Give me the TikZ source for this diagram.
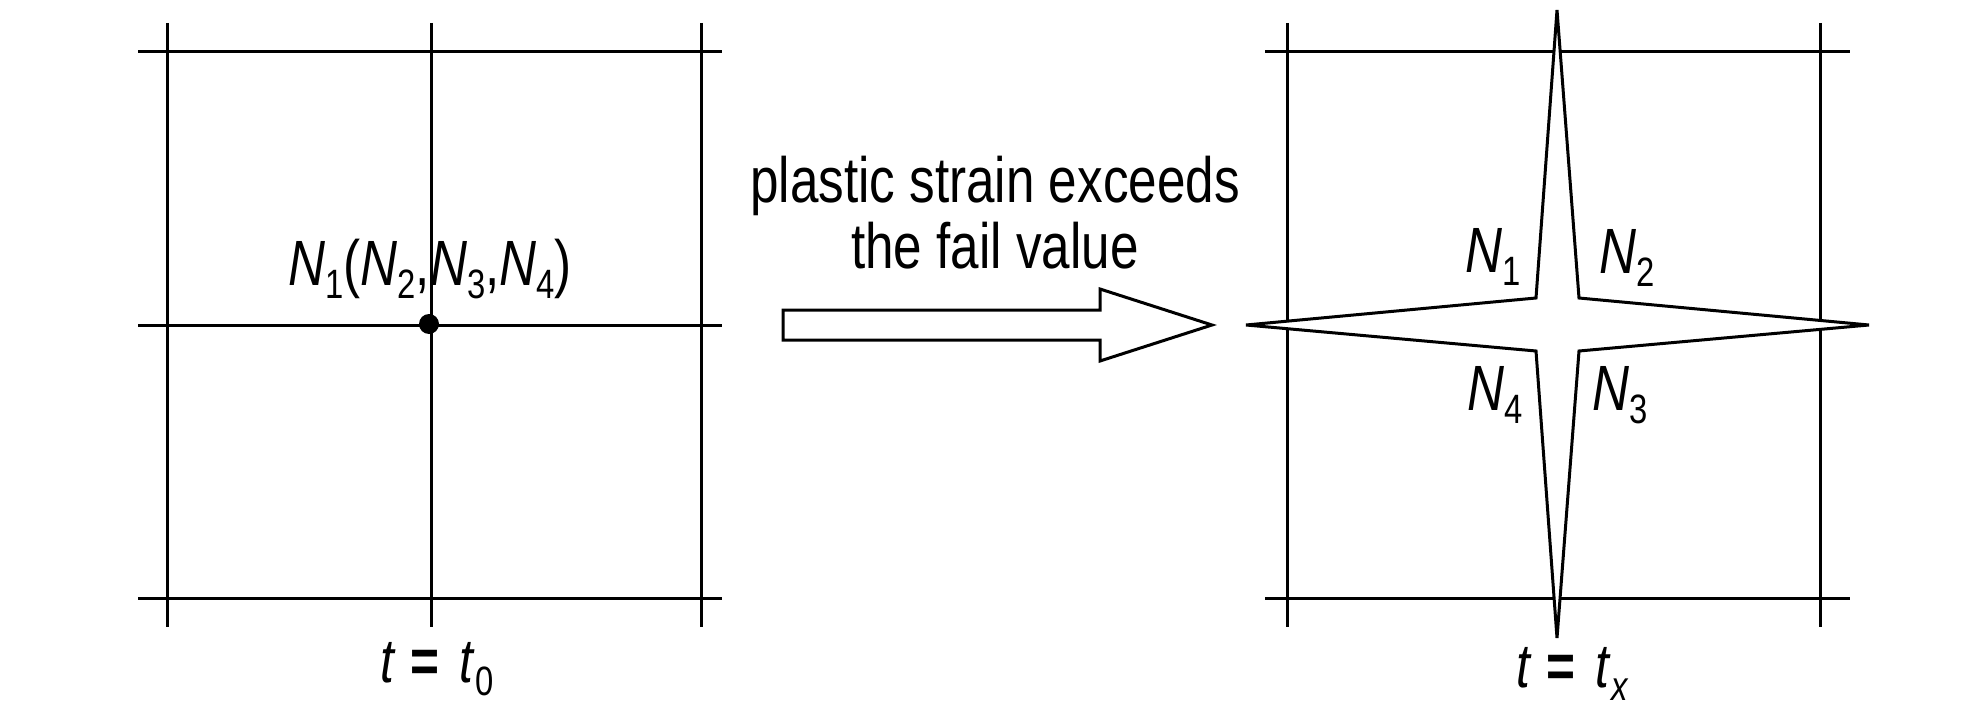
\documentclass[tikz,border=0pt]{standalone}
\usepackage{fontspec}
\setmainfont{Liberation Sans}[FakeStretch=0.80]
\newcommand\lsub[1]{\raisebox{-13pt}{\fontsize{41}{41}\selectfont #1}}
\newcommand\nlab[1]{\textit{N}\lsub{#1}}
\newcommand\teq{\hspace{15pt}\textbf{=}\hspace{20pt}}
\begin{document}
\begin{tikzpicture}[x=1pt,y=-1pt,
  gridline/.style={line width=3pt,black},
  outline/.style={line width=3pt,black,fill=white,line join=miter},
  lab/.style={inner sep=0pt,font=\fontsize{64}{66}\selectfont},
  tlab/.style={inner sep=0pt,font=\fontsize{62}{66}\selectfont}]
\useasboundingbox (0,0) rectangle (1984,709);
% left grid
\foreach \y in {52,325,598} \draw[gridline] (138,\y) -- (722,\y);
\foreach \x in {167,431,701} \draw[gridline] (\x,23) -- (\x,627);
\node[circle,fill=black,minimum size=20pt,inner sep=0pt] (dot) at (429,324) {};
\node[lab,anchor=base] (lbl0) at (430,285) {\nlab{1}(\nlab{2},\nlab{3},\nlab{4})};
\node[tlab,anchor=base west] (t0) at (380,682) {\textit{t}\teq\textit{t}\lsub{0}};
% arrow
\draw[outline] (783,310) -- (1100,310) -- (1100,289) -- (1212,325) -- (1100,361) -- (1100,340) -- (783,340) -- cycle;
\node[lab,align=center,anchor=center] (txt) at (995,213) {plastic strain exceeds\\the fail value};
% right grid
\foreach \y in {52,598} \draw[gridline] (1265,\y) -- (1850,\y);
\foreach \x in {1287,1820} \draw[gridline] (\x,23) -- (\x,627);
\draw[outline] (1246,325) -- (1536,298) -- (1557,10) -- (1579,298) -- (1869,325) -- (1579,351) -- (1557,638) -- (1536,351) -- cycle;
\node[lab,anchor=base west] (n1) at (1465,272) {\nlab{1}};
\node[lab,anchor=base west] (n2) at (1599,273) {\nlab{2}};
\node[lab,anchor=base west] (n4) at (1467,410) {\nlab{4}};
\node[lab,anchor=base west] (n3) at (1592,410) {\nlab{3}};
\node[tlab,anchor=base west] (tx) at (1516,687) {\textit{t}\teq\textit{t}\lsub{\textit{x}}};
\end{tikzpicture}
\end{document}
